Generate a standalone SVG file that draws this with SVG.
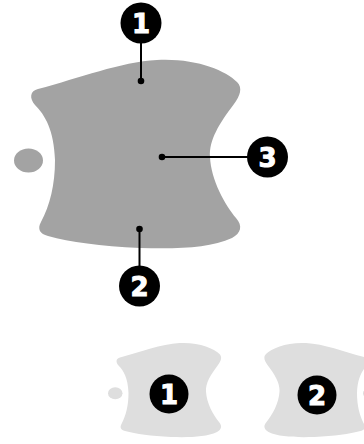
<svg xmlns="http://www.w3.org/2000/svg" xmlns:xlink="http://www.w3.org/1999/xlink" width="364" height="444" viewBox="0 0 364 444">
<style>
.badge{fill:#000}
.num{fill:#fff;stroke:#fff;stroke-width:1;font-family:"DejaVu Sans",sans-serif;font-weight:bold;font-size:26px;text-anchor:middle;dominant-baseline:central}
.lead{stroke:#000;stroke-width:2;fill:none}
.dot{fill:#000}
.dark{fill:#a3a3a3}
.light{fill:#dedede}
</style>
<defs>
<g id="handle">
<path d="M 38 89 C 80 78, 120 62, 157 60 C 195 58, 225 70, 237 82 C 243 88, 240 96, 234 104 C 219 124, 209 140, 210 157 C 211 180, 225 205, 236 218 C 243 226, 241 233, 232 238 C 210 248, 180 249, 140 248 C 100 246, 70 242, 48 236 C 40 234, 37 229, 41 222 C 50 205, 55 185, 55 160 C 54 130, 45 115, 35 105 C 29 98, 30 91, 38 89 Z"/>
<ellipse cx="28.5" cy="160.5" rx="14.5" ry="12"/>
</g>
</defs>
<g id="main-shape" class="dark"><use xlink:href="#handle"/></g>
<g id="small-shape-1" class="light"><use xlink:href="#handle" transform="translate(101,313) scale(0.5)"/></g>
<g id="small-shape-2" class="light"><use xlink:href="#handle" transform="translate(384.5,313) scale(-0.5,0.5)"/></g>
<g id="connectors">
<line class="lead" x1="141" y1="43" x2="141" y2="81"/>
<circle class="dot" cx="141" cy="81" r="3.3"/>
<line class="lead" x1="162" y1="157" x2="248" y2="157"/>
<circle class="dot" cx="162" cy="157" r="3.3"/>
<line class="lead" x1="139.5" y1="229" x2="139.5" y2="266"/>
<circle class="dot" cx="139.5" cy="229" r="3.3"/>
</g>
<g id="badge-1"><circle class="badge" cx="141" cy="23" r="20.5"/><text class="num" x="141" y="24">1</text></g>
<g id="badge-3"><circle class="badge" cx="267.5" cy="157" r="20.5"/><text class="num" x="267.5" y="158">3</text></g>
<g id="badge-2"><circle class="badge" cx="139.5" cy="286" r="20.5"/><text class="num" x="139.5" y="287">2</text></g>
<g id="badge-small-1"><circle class="badge" cx="169" cy="394" r="19.5"/><text class="num" x="169" y="395">1</text></g>
<g id="badge-small-2"><circle class="badge" cx="317" cy="395" r="19.5"/><text class="num" x="317" y="396">2</text></g>
</svg>
